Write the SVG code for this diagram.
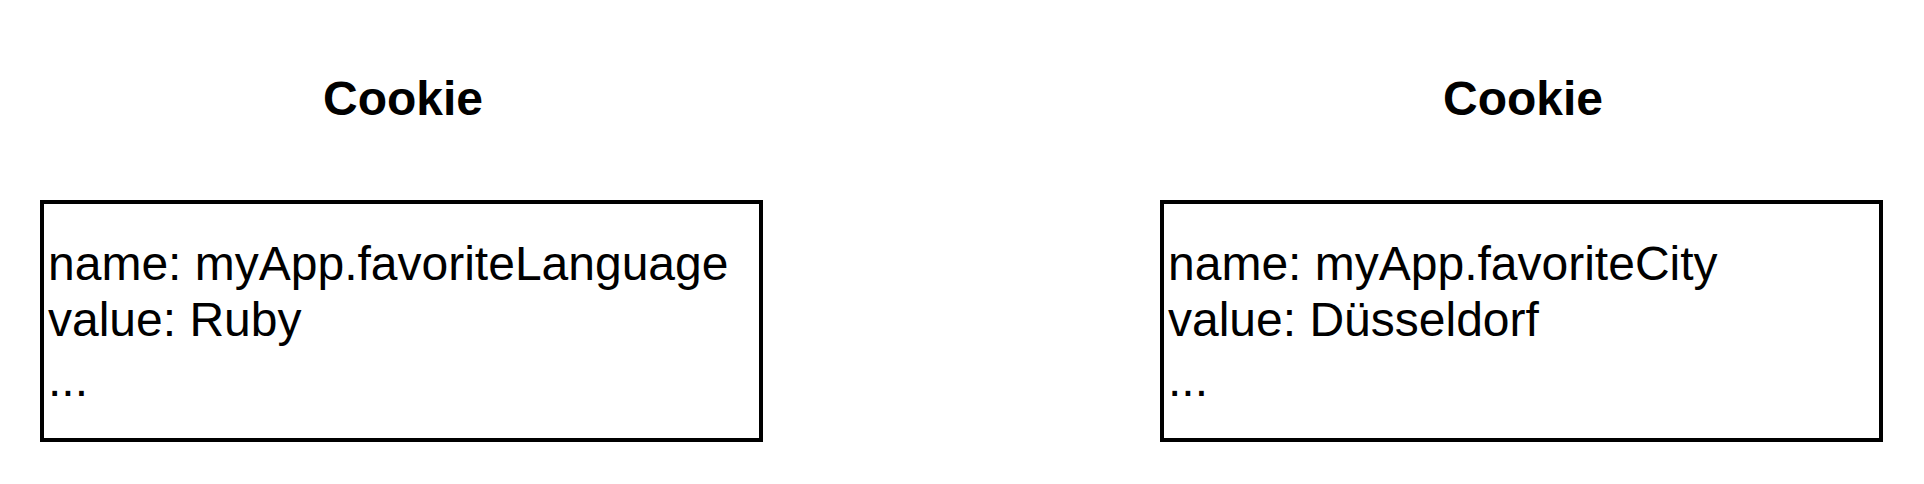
<svg xmlns="http://www.w3.org/2000/svg" width="1924" height="484" viewBox="0 0 1924 484">
<style>
.box{fill:#fff;stroke:#000;stroke-width:4}
.title{font-family:"Liberation Sans",Arial,sans-serif;font-size:48px;font-weight:bold;fill:#000;text-anchor:middle}
.body{font-family:"Liberation Sans",Arial,sans-serif;font-size:48px;fill:#000}
</style>
<rect width="1924" height="484" fill="#fff"/>
<g id="title-left"><text class="title" x="403" y="115">Cookie</text></g>
<g id="title-right"><text class="title" x="1523" y="115">Cookie</text></g>
<g id="cookie-left">
<rect class="box" x="42" y="202" width="719" height="238"/>
<text class="body" x="48" y="280">name: myApp.favoriteLanguage</text>
<text class="body" x="48" y="336">value: Ruby</text>
<text class="body" x="48" y="396">...</text>
</g>
<g id="cookie-right">
<rect class="box" x="1162" y="202" width="719" height="238"/>
<text class="body" x="1168" y="280">name: myApp.favoriteCity</text>
<text class="body" x="1168" y="336">value: Düsseldorf</text>
<text class="body" x="1168" y="396">...</text>
</g>
<g id="connectors"></g>
</svg>
